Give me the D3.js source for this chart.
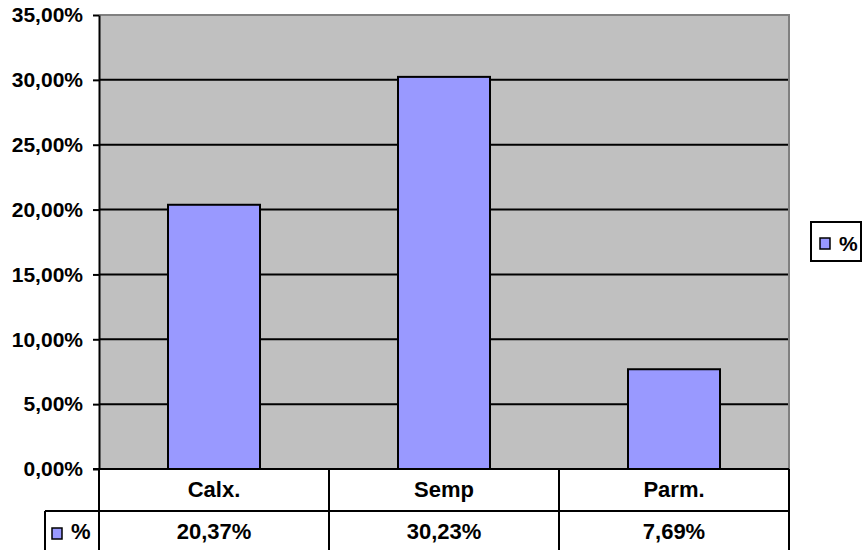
<!DOCTYPE html>
<html>
<head>
<meta charset="utf-8">
<script src="https://cdn.jsdelivr.net/npm/d3@7"></script>
<style>
  html, body { margin: 0; padding: 0; background: #fff; }
  svg { display: block; font-family: "Liberation Sans", Arial, sans-serif; font-weight: bold; }
</style>
</head>
<body>
<svg id="chart" width="862" height="550"></svg>
<script>
// data
const categories = ['Calx.', 'Semp', 'Parm.'];
const values = [0.2037, 0.3023, 0.0769];
const seriesName = '%';
const yTicks = [0, 0.05, 0.10, 0.15, 0.20, 0.25, 0.30, 0.35];

const width = 862, height = 550;
const plot = { left: 99, right: 789, top: 15, bottom: 469 };
const rowH = 42;

const locale = d3.formatLocale({ decimal: ',', thousands: '.', grouping: [3], currency: ['', '€'] });
const pct = locale.format('.2%');

const svg = d3.select('#chart');

const x = d3.scaleBand()
  .domain(categories)
  .range([plot.left, plot.right])
  .paddingInner(0.6)
  .paddingOuter(0.3);

const col = d3.scaleBand()
  .domain(categories)
  .range([plot.left, plot.right]);

const y = d3.scaleLinear()
  .domain([0, 0.35])
  .range([plot.bottom, plot.top]);

// plot background
svg.append('rect')
  .attr('x', plot.left).attr('y', plot.top)
  .attr('width', plot.right - plot.left)
  .attr('height', plot.bottom - plot.top)
  .attr('fill', '#c0c0c0');

// gridlines
svg.append('g')
  .selectAll('line')
  .data(yTicks.filter(d => d > 0 && d < 0.35))
  .enter().append('line')
  .attr('x1', plot.left).attr('x2', plot.right)
  .attr('y1', d => y(d)).attr('y2', d => y(d))
  .attr('stroke', '#000').attr('stroke-width', 2);

// top / right border of plot area
svg.append('path')
  .attr('d', `M${plot.left},${plot.top}H${plot.right}V${plot.bottom}`)
  .attr('fill', 'none')
  .attr('stroke', '#808080')
  .attr('stroke-width', 2);

// bars
svg.append('g')
  .selectAll('rect')
  .data(values)
  .enter().append('rect')
  .attr('x', (d, i) => x(categories[i]))
  .attr('y', d => y(d))
  .attr('width', x.bandwidth())
  .attr('height', d => y(0) - y(d))
  .attr('fill', '#9999ff')
  .attr('stroke', '#000')
  .attr('stroke-width', 2);

// y axis
const yAxis = svg.append('g')
  .attr('transform', `translate(${plot.left},0)`)
  .call(d3.axisLeft(y).tickValues(yTicks).tickFormat(pct).tickSize(6).tickSizeOuter(0).tickPadding(10));
yAxis.select('.domain').attr('stroke', '#000').attr('stroke-width', 2);
yAxis.selectAll('.tick line').attr('stroke', '#000').attr('stroke-width', 2);
yAxis.selectAll('.tick text')
  .attr('fill', '#000')
  .style('font-size', '21px')
  .style('font-weight', 'bold')
  .style('font-family', '"Liberation Sans", Arial, sans-serif');

// data table
const table = svg.append('g');
const r1 = plot.bottom, r2 = plot.bottom + rowH, r3 = plot.bottom + 2 * rowH;
const legCellX = 45;

// horizontal lines
table.append('line')
  .attr('x1', plot.left - 6).attr('x2', plot.right)
  .attr('y1', r1).attr('y2', r1)
  .attr('stroke', '#000').attr('stroke-width', 2);
table.append('line')
  .attr('x1', legCellX).attr('x2', plot.right)
  .attr('y1', r2).attr('y2', r2)
  .attr('stroke', '#000').attr('stroke-width', 2);
table.append('line')
  .attr('x1', legCellX).attr('x2', plot.right)
  .attr('y1', r3).attr('y2', r3)
  .attr('stroke', '#000').attr('stroke-width', 2);

// vertical lines
const colEdges = categories.map(c => col(c)).concat([col(categories[categories.length - 1]) + col.bandwidth()]);
table.selectAll('line.v')
  .data(colEdges)
  .enter().append('line')
  .attr('class', 'v')
  .attr('x1', d => d).attr('x2', d => d)
  .attr('y1', r1).attr('y2', r3)
  .attr('stroke', '#000').attr('stroke-width', 2);
table.append('line')
  .attr('x1', legCellX).attr('x2', legCellX)
  .attr('y1', r2).attr('y2', r3)
  .attr('stroke', '#000').attr('stroke-width', 2);

// category labels
table.selectAll('text.cat')
  .data(categories)
  .enter().append('text')
  .attr('class', 'cat')
  .attr('x', d => col(d) + col.bandwidth() / 2)
  .attr('y', (r1 + r2) / 2 - 1)
  .attr('dy', '0.36em')
  .attr('text-anchor', 'middle')
  .style('font-size', '22px')
  .text(d => d);

// value labels
table.selectAll('text.val')
  .data(values)
  .enter().append('text')
  .attr('class', 'val')
  .attr('x', (d, i) => col(categories[i]) + col.bandwidth() / 2)
  .attr('y', (r2 + r3) / 2 - 1)
  .attr('dy', '0.36em')
  .attr('text-anchor', 'middle')
  .style('font-size', '22px')
  .text(d => pct(d));

// series key in table
table.append('rect')
  .attr('x', 52).attr('y', 528)
  .attr('width', 10).attr('height', 11)
  .attr('fill', '#9999ff').attr('stroke', '#000').attr('stroke-width', 1.5);
table.append('text')
  .attr('x', 71).attr('y', (r2 + r3) / 2 - 1)
  .attr('dy', '0.36em')
  .style('font-size', '22px')
  .text(seriesName);

// legend
const legend = svg.append('g');
legend.append('rect')
  .attr('x', 811).attr('y', 222)
  .attr('width', 50).attr('height', 39)
  .attr('fill', '#fff').attr('stroke', '#000').attr('stroke-width', 2);
legend.append('rect')
  .attr('x', 820).attr('y', 238)
  .attr('width', 10).attr('height', 11)
  .attr('fill', '#9999ff').attr('stroke', '#000').attr('stroke-width', 1.5);
legend.append('text')
  .attr('x', 839).attr('y', 243)
  .attr('dy', '0.36em')
  .style('font-size', '21px')
  .text(seriesName);
</script>
</body>
</html>
